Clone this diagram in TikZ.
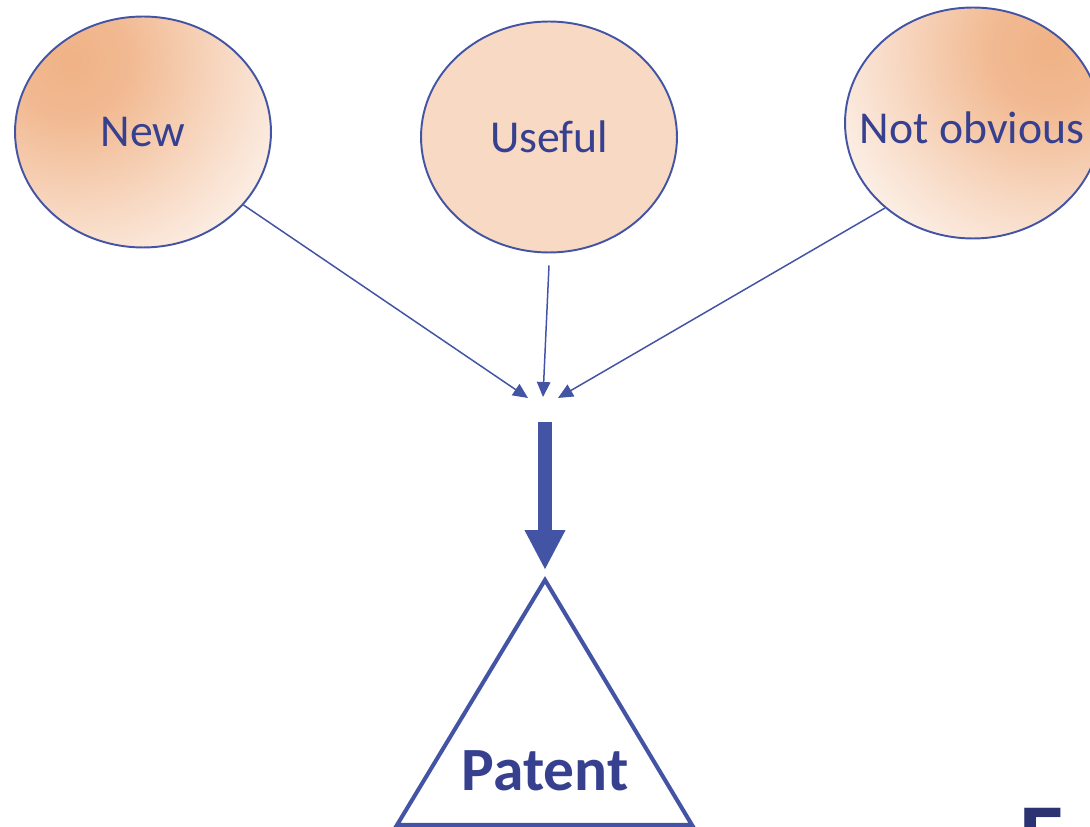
\documentclass[tikz,border=0pt]{standalone}
\usepackage{fontspec}
\setmainfont{Carlito}
\usetikzlibrary{shapes,arrows.meta,positioning}
\definecolor{linkblue}{RGB}{68,84,164}
\definecolor{txtblue}{RGB}{55,64,143}
\definecolor{peach}{RGB}{240,178,134}
\definecolor{peachlight}{RGB}{247,217,196}
\pgfdeclareradialshading{blush}{\pgfpoint{0bp}{0bp}}{color(0bp)=(peach); color(5bp)=(peach!90!white); color(14bp)=(peach!45!white); color(22bp)=(peach!8!white); color(26bp)=(white); color(50bp)=(white)}
\tikzstyle{crit} = [ellipse, draw=linkblue, line width=1.1pt, minimum width=5.12cm, minimum height=4.62cm, inner sep=0pt, text=txtblue, font=\fontsize{26}{30}\selectfont]
\tikzstyle{feed} = [draw=linkblue, line width=0.85pt, -{Triangle[length=0.3cm,width=0.27cm]}]
\tikzstyle{result} = [draw=linkblue, line width=0.28cm, -{Triangle[length=0.8cm,width=0.76cm]}]

\begin{document}
\begin{tikzpicture}[x=0.02cm,y=-0.02cm]
	\useasboundingbox (0,0) rectangle (1090,827);
	% the three criteria
	\node[crit, path picture={\shade[shading=blush] ([shift={(-1.46cm,1.44cm)}]path picture bounding box.center) circle (6cm);}] (new) at (143,132) {New};
	\node[crit, fill=peachlight] (useful) at (549,137) {Useful};
	\node[crit, inner xsep=-0.7cm, path picture={\shade[shading=blush] ([shift={(1.54cm,1.46cm)}]path picture bounding box.center) circle (6cm);}] (notobv) at (973,123) {};
	\node[text=txtblue, font=\fontsize{26}{30}\selectfont] (notobvtxt) at (972,128) {Not obvious};
	
	% where they meet
	\coordinate (hubl) at (528,398);
	\coordinate (hubm) at (543,397);
	\coordinate (hubr) at (558,398);
	\coordinate (go) at (545,422);
	\coordinate (top) at (545,580);
	\coordinate (bl) at (397,825);
	\coordinate (br) at (692,825);
	
	\draw[feed] (new.-36) -- (hubl);
	\draw[feed] ([yshift=-0.24cm]useful.south) -- (hubm);
	\draw[feed] (notobv.-136) -- (hubr);
	\draw[result] (go) -- ([yshift=0.2cm]top);
	
	% the outcome
	\draw[linkblue, line width=2.3pt, line join=miter] (top) -- (br) -- (bl) -- cycle;
	\node[text=txtblue, font=\fontsize{35}{42}\bfseries] (patent) at (545,771) {Patent};
	
	\begin{scope}
		\clip (0,0) rectangle (1090,827);
		\node[anchor=north west, inner sep=0pt, text=txtblue!80!black, font=\fontsize{52}{60}\bfseries] (cut) at (1019,808) {E};
	\end{scope}
\end{tikzpicture}
\end{document}
